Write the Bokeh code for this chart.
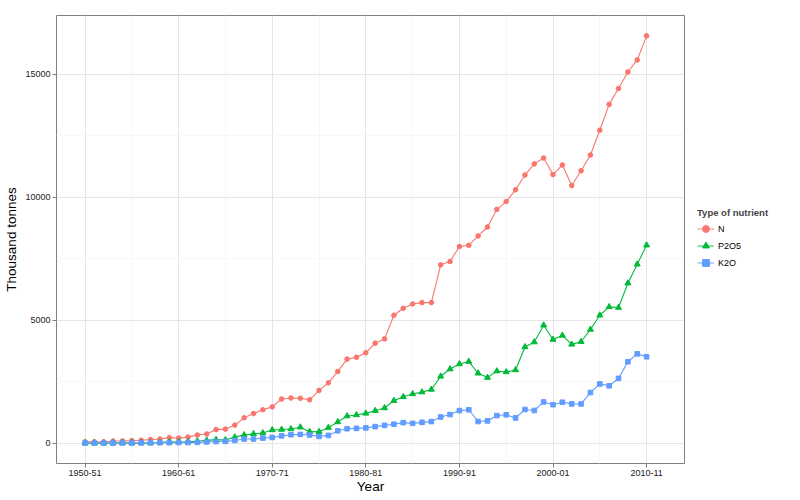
from bokeh.plotting import figure
from bokeh.layouts import row
from bokeh.models import Range1d, FixedTicker, Legend, LegendItem
from bokeh.embed import file_html
from bokeh.resources import INLINE

# Year (start of agricultural year), 1950-51 ... 2010-11
year_start = list(range(1950, 2011))

# Consumption of fertiliser nutrients, thousand tonnes
n_vals = [55, 59, 58, 90, 94, 107, 123, 149, 172, 229,
          210, 250, 333, 376, 555, 575, 738, 1035, 1209, 1361,
          1479, 1798, 1839, 1829, 1766, 2149, 2457, 2913, 3420, 3498,
          3678, 4069, 4242, 5204, 5487, 5661, 5716, 5717, 7251, 7386,
          7997, 8046, 8427, 8789, 9507, 9823, 10302, 10902, 11354, 11593,
          10920, 11310, 10474, 11077, 11714, 12723, 13773, 14419, 15090, 15580,
          16558]
p2o5_vals = [9, 7, 5, 8, 15, 13, 16, 22, 30, 54,
             53, 61, 83, 117, 149, 133, 249, 335, 382, 416,
             541, 558, 581, 650, 471, 467, 635, 866, 1106, 1151,
             1214, 1322, 1433, 1730, 1886, 2005, 2079, 2187, 2721, 3014,
             3221, 3321, 2844, 2669, 2932, 2898, 2977, 3914, 4112, 4798,
             4215, 4382, 4019, 4124, 4624, 5204, 5543, 5515, 6506, 7274,
             8050]
k2o_vals = [6, 8, 8, 8, 11, 10, 15, 13, 22, 22,
            29, 28, 36, 51, 69, 77, 114, 170, 170, 210,
            236, 300, 347, 360, 336, 278, 319, 506, 591, 606,
            624, 676, 727, 775, 838, 808, 850, 880, 1068, 1168,
            1328, 1361, 884, 908, 1125, 1156, 1030, 1373, 1332, 1678,
            1567, 1667, 1601, 1598, 2061, 2413, 2335, 2636, 3313, 3632,
            3514]

tick_years = [1950, 1960, 1970, 1980, 1990, 2000, 2010]
tick_labels = ["1950-51", "1960-61", "1970-71", "1980-81", "1990-91", "2000-01", "2010-11"]
y_ticks = [0, 5000, 10000, 15000]
y_minor = [2500, 7500, 12500]

series_names = ["N", "P2O5", "K2O"]
series_colors = ["#F8766D", "#00BA38", "#619CFF"]
series_markers = ["circle", "triangle", "square"]

FONT = "Liberation Sans"

p = figure(width=685, height=500, output_backend="svg", toolbar_location=None,
           x_range=Range1d(1946.95, 2014.05), y_range=Range1d(-823, 17386),
           min_border_left=56, min_border_right=1, min_border_top=15, min_border_bottom=37)

p.background_fill_color = "white"
p.border_fill_color = "white"
p.outline_line_color = "#7F7F7F"
p.outline_line_width = 1

p.xaxis.ticker = FixedTicker(ticks=tick_years, minor_ticks=[1955, 1965, 1975, 1985, 1995, 2005])
p.xaxis.major_label_overrides = {y: l for y, l in zip(tick_years, tick_labels)}
p.yaxis.ticker = FixedTicker(ticks=y_ticks, minor_ticks=y_minor)

for ax in (p.xaxis[0], p.yaxis[0]):
    ax.axis_line_color = None
    ax.major_tick_line_color = "#7F7F7F"
    ax.major_tick_out = 4
    ax.major_tick_in = 0
    ax.minor_tick_out = 0
    ax.minor_tick_in = 0
    ax.major_label_text_font = FONT
    ax.major_label_text_font_size = "9px"
    ax.major_label_text_color = "#1a1a1a"
    ax.major_label_standoff = 2
    ax.axis_label_text_font = FONT
    ax.axis_label_text_font_size = "13.5px"
    ax.axis_label_text_font_style = "normal"
    ax.axis_label_text_color = "black"
    ax.axis_label_standoff = 3

p.xaxis.axis_label_standoff = 0
p.xaxis.axis_label = "Year"
p.yaxis.axis_label = "Thousand tonnes"

p.xgrid.grid_line_color = "#E5E5E5"
p.ygrid.grid_line_color = "#E5E5E5"
p.xgrid.minor_grid_line_color = "#F7F7F7"
p.ygrid.minor_grid_line_color = "#F7F7F7"

# Legend panel (separate narrow figure to the right of the plot)
pl = figure(width=115, height=500, output_backend="svg", toolbar_location=None,
            x_range=Range1d(0, 1), y_range=Range1d(0, 1),
            min_border=0)
pl.axis.visible = False
pl.grid.visible = False
pl.outline_line_color = None
pl.background_fill_color = "white"
pl.border_fill_color = "white"

items = []
for name, vals, col, mk in zip(series_names, [n_vals, p2o5_vals, k2o_vals], series_colors, series_markers):
    sz = 6 if mk == "triangle" else 4.6
    p.line(year_start, vals, line_color=col, line_width=1.1)
    p.scatter(year_start, vals, marker=mk, size=sz, fill_color=col, line_color=col)
    # off-canvas proxies used only to draw the legend keys
    l1 = pl.line([5, 6], [5, 5], line_color=col, line_width=1.1, line_alpha=0.8)
    l2 = pl.scatter([5], [5], marker=mk, size=sz, fill_color=col, line_color=col)
    items.append(LegendItem(label=name, renderers=[l1, l2]))

legend = Legend(items=items, location=(12, 192))
legend.title = "Type of nutrient"
legend.title_text_font = FONT
legend.title_text_font_style = "bold"
legend.title_text_font_size = "9.5px"
legend.title_standoff = 2
legend.label_text_font = FONT
legend.label_text_font_size = "9px"
legend.label_text_color = "black"
legend.glyph_width = 17
legend.glyph_height = 17
legend.label_height = 17
legend.label_standoff = 4
legend.spacing = 0
legend.padding = 0
legend.margin = 0
legend.border_line_color = None
legend.background_fill_alpha = 0
pl.add_layout(legend)

layout = row(p, pl)
open("out.html", "w").write(file_html(layout, INLINE))
